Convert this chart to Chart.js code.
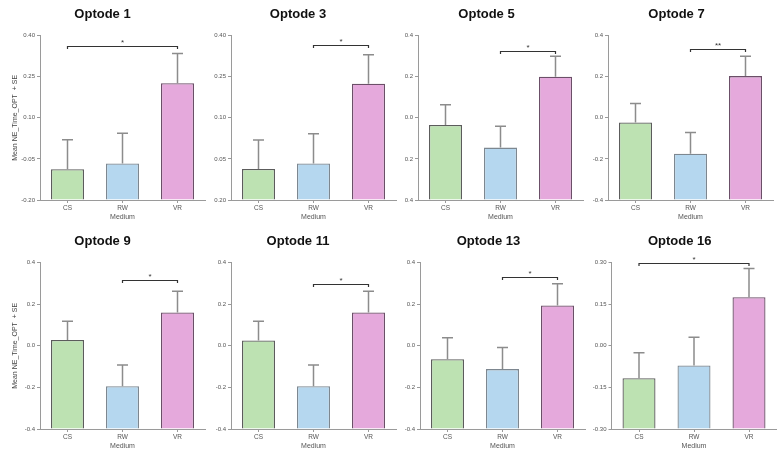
<!DOCTYPE html>
<html>
<head>
<meta charset="utf-8">
<script src="https://cdn.jsdelivr.net/npm/chart.js@4.4.1/dist/chart.umd.min.js"></script>
<style>
  html, body { margin:0; padding:0; background:#fff; overflow:hidden; }
  #wrap { position:relative; width:782px; height:454px; overflow:hidden; background:#fff; }
  #wrap canvas { position:absolute; }
</style>
</head>
<body>
<div id="wrap"></div>
<script>
// data
const categories = ['CS', 'RW', 'VR'];
const panelTitles = ['Optode 1', 'Optode 3', 'Optode 5', 'Optode 7', 'Optode 9', 'Optode 11', 'Optode 13', 'Optode 16'];

const optode1Mean = [-0.088, -0.067, 0.226];
const optode1SE = [0.108, 0.111, 0.109];
const optode3Mean = [-0.087, -0.067, 0.224];
const optode3SE = [0.106, 0.109, 0.106];
const optode5Mean = [-0.035, -0.145, 0.200];
const optode5SE = [0.099, 0.104, 0.100];
const optode7Mean = [-0.023, -0.175, 0.203];
const optode7SE = [0.092, 0.103, 0.097];
const optode9Mean = [0.028, -0.194, 0.160];
const optode9SE = [0.090, 0.102, 0.102];
const optode11Mean = [0.026, -0.194, 0.160];
const optode11SE = [0.092, 0.102, 0.102];
const optode13Mean = [-0.065, -0.112, 0.194];
const optode13SE = [0.104, 0.104, 0.104];
const optode16Mean = [-0.117, -0.071, 0.175];
const optode16SE = [0.092, 0.102, 0.104];

// significance brackets: [from, to, level, mark]
const bracket1 = [0, 2, 0.361, '*'];
const bracket3 = [1, 2, 0.364, '*'];
const bracket5 = [1, 2, 0.327, '*'];
const bracket7 = [1, 2, 0.334, '**'];
const bracket9 = [1, 2, 0.314, '*'];
const bracket11 = [1, 2, 0.296, '*'];
const bracket13 = [1, 2, 0.330, '*'];
const bracket16 = [0, 2, 0.2975, '*'];

// y ticks (bottom to top) and their printed labels
const ticksA = [-0.20, -0.05, 0.10, 0.25, 0.40];
const ticksB = [-0.4, -0.2, 0.0, 0.2, 0.4];
const ticksC = [-0.30, -0.15, 0.00, 0.15, 0.30];
const labels1 = ['-0.20', '-0.05', '0.10', '0.25', '0.40'];
const labels3 = ['0.20', '0.05', '0.10', '0.25', '0.40'];
const labels5 = ['0.4', '0.2', '0.0', '0.2', '0.4'];
const labelsB = ['-0.4', '-0.2', '0.0', '0.2', '0.4'];
const labels16 = ['-0.30', '-0.15', '0.00', '0.15', '0.30'];

const barFill = ['#bde2b2', '#b5d7ef', '#e5a9dc'];
const barEdge = ['#5c5c5c', '#7d8790', '#6b4f68'];

const panels = [
  {mean: optode1Mean, se: optode1SE, br: bracket1, ticks: ticksA, labels: labels1},
  {mean: optode3Mean, se: optode3SE, br: bracket3, ticks: ticksA, labels: labels3},
  {mean: optode5Mean, se: optode5SE, br: bracket5, ticks: ticksB, labels: labels5},
  {mean: optode7Mean, se: optode7SE, br: bracket7, ticks: ticksB, labels: labelsB},
  {mean: optode9Mean, se: optode9SE, br: bracket9, ticks: ticksB, labels: labelsB},
  {mean: optode11Mean, se: optode11SE, br: bracket11, ticks: ticksB, labels: labelsB},
  {mean: optode13Mean, se: optode13SE, br: bracket13, ticks: ticksB, labels: labelsB},
  {mean: optode16Mean, se: optode16SE, br: bracket16, ticks: ticksC, labels: labels16},
];

// canvas placement: left, top, width, y-axis width, right padding, x-axis height
const boxes = [
  [0, 0, 244, 40, 39, 27],
  [200, 0, 226, 31, 30, 27],
  [390, 0, 214, 28, 21, 27],
  [580, 0, 284, 28, 91, 27],
  [0, 227, 244, 40, 39, 25],
  [200, 227, 226, 31, 30, 25],
  [392, 227, 216, 28, 23, 25],
  [583, 227, 208, 28.5, 14.5, 25],
];

const FONT = "'Liberation Sans', Arial, sans-serif";

// error bars + significance bracket
const errorBars = {
  id: 'errorBars',
  afterDatasetsDraw(chart, args, opts) {
    const ctx = chart.ctx;
    const y = chart.scales.y;
    const meta = chart.getDatasetMeta(0);
    const vals = chart.data.datasets[0].data;
    ctx.save();
    ctx.strokeStyle = '#8c8c8c';
    ctx.lineWidth = 1.5;
    meta.data.forEach((bar, i) => {
      const top = y.getPixelForValue(vals[i] + opts.se[i]);
      ctx.beginPath();
      ctx.moveTo(bar.x, bar.y);
      ctx.lineTo(bar.x, top);
      ctx.moveTo(bar.x - 5.5, top);
      ctx.lineTo(bar.x + 5.5, top);
      ctx.stroke();
    });
    const b = opts.bracket;
    const x1 = meta.data[b[0]].x, x2 = meta.data[b[1]].x;
    const by = Math.round(y.getPixelForValue(b[2])) + 0.5;
    ctx.strokeStyle = '#333';
    ctx.lineWidth = 1.2;
    ctx.beginPath();
    ctx.moveTo(x1, by + 2.5);
    ctx.lineTo(x1, by);
    ctx.lineTo(x2, by);
    ctx.lineTo(x2, by + 2.5);
    ctx.stroke();
    ctx.fillStyle = '#333';
    ctx.font = '8px ' + FONT;
    ctx.textAlign = 'center';
    ctx.textBaseline = 'alphabetic';
    ctx.fillText(b[3], (x1 + x2) / 2, by - 2);
    ctx.restore();
  }
};

const wrap = document.getElementById('wrap');

panels.forEach((p, k) => {
  const [left, top, w, yW, padR, xH] = boxes[k];
  const cv = document.createElement('canvas');
  cv.width = w;
  cv.height = 227;
  cv.style.left = left + 'px';
  cv.style.top = top + 'px';
  wrap.appendChild(cv);
  const firstCol = k % 4 === 0;

  new Chart(cv, {
    type: 'bar',
    data: {
      labels: categories,
      datasets: [{
        data: p.mean,
        base: p.ticks[0],
        backgroundColor: barFill,
        borderColor: barEdge,
        borderWidth: 1.3,
        barPercentage: 0.6,
        categoryPercentage: 1,
      }]
    },
    options: {
      responsive: false,
      animation: false,
      devicePixelRatio: 1,
      layout: { padding: { left: 0, right: padR, top: 0, bottom: 0 } },
      scales: {
        x: {
          afterFit: s => { s.height = xH; },
          grid: { drawOnChartArea: false, offset: false, tickLength: 3, color: '#9a9a9a' },
          border: { color: '#9a9a9a', width: 1 },
          ticks: { font: { size: 6.5, family: FONT }, color: '#555', padding: 1 },
          title: { display: true, text: 'Medium', font: { size: 7, family: FONT }, color: '#555',
                   padding: { top: 0, bottom: xH === 27 ? 6 : 4 } }
        },
        y: {
          min: p.ticks[0],
          max: p.ticks[p.ticks.length - 1],
          afterBuildTicks: s => { s.ticks = p.ticks.map(v => ({ value: v })); },
          afterFit: s => { s.width = yW; },
          grid: { drawOnChartArea: false, tickLength: 3, color: '#9a9a9a' },
          border: { color: '#9a9a9a', width: 1 },
          ticks: { font: { size: 6, family: FONT }, color: '#555', padding: 2,
                   callback: (v, i) => p.labels[i] },
          title: { display: firstCol, text: 'Mean NE_Time_OPT  + SE', font: { size: 7, family: FONT },
                   color: '#444', padding: { top: 11, bottom: 0 } }
        }
      },
      plugins: {
        legend: { display: false },
        tooltip: { enabled: false },
        title: {
          display: true,
          text: panelTitles[k],
          font: { size: 13, weight: 'bold', family: FONT },
          color: '#111',
          padding: { top: 7, bottom: 13 }
        },
        errorBars: { se: p.se, bracket: p.br }
      }
    },
    plugins: [errorBars]
  });
});
</script>
</body>
</html>
